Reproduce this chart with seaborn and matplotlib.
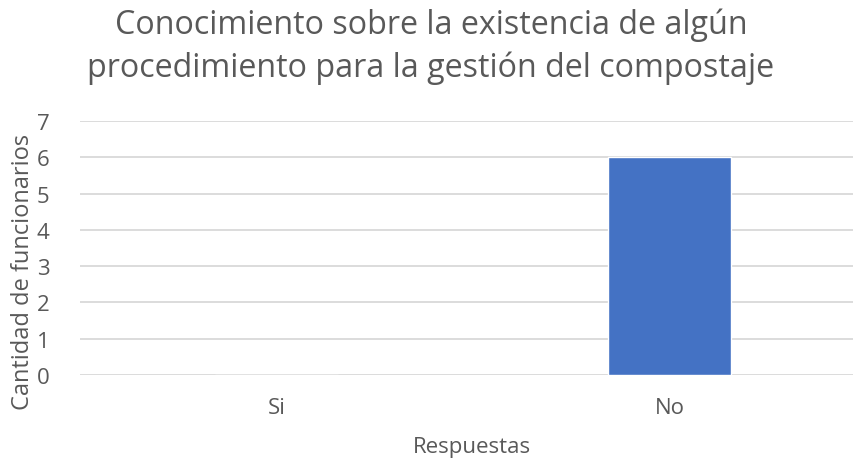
import matplotlib
matplotlib.use("Agg")
import matplotlib.pyplot as plt
import seaborn as sns
import pandas as pd

categories = ["Si", "No"]
values = [0, 6]
title_lines = ["Conocimiento sobre la existencia de algún",
               "procedimiento para la gestión del compostaje"]
xlabel = "Respuestas"
ylabel = "Cantidad de funcionarios"

sns.set_theme(style="white")
plt.rcParams["font.family"] = ["Open Sans", "DejaVu Sans"]
txt = "#595959"
W, H = 854, 460

df = pd.DataFrame({"cat": categories, "val": values})
fig = plt.figure(figsize=(W / 100, H / 100), dpi=100)
ax = fig.add_axes([80 / W, 1 - 376 / H, (866 - 80) / W, (376 - 122) / H])
sns.barplot(data=df, x="cat", y="val", color="#4472C4", width=0.313, ax=ax,
            saturation=1, zorder=3)
ax.set_ylim(0, 7)
ax.set_yticks(range(0, 8))
ax.yaxis.grid(True, color="#d9d9d9", linewidth=1.3, zorder=0)
ax.set_axisbelow(True)
for s in ax.spines.values():
    s.set_visible(False)
ax.tick_params(axis="both", length=0, colors=txt, labelsize=16)
ax.tick_params(axis="y", pad=22)
ax.tick_params(axis="x", pad=16)
ax.set_xlabel("")
ax.set_ylabel("")
fig.text(472 / W, 1 - 453 / H, xlabel, ha="center", va="baseline",
         color=txt, fontsize=16)
fig.text(23 / W, 1 - 272 / H, ylabel, ha="center", va="center",
         rotation=90, color=txt, fontsize=17)
for i, line in enumerate(title_lines):
    fig.text(431 / W, 1 - (34 + 43 * i) / H, line, ha="center", va="baseline",
             color=txt, fontsize=23.2)
fig.savefig("out.png", dpi=100)
